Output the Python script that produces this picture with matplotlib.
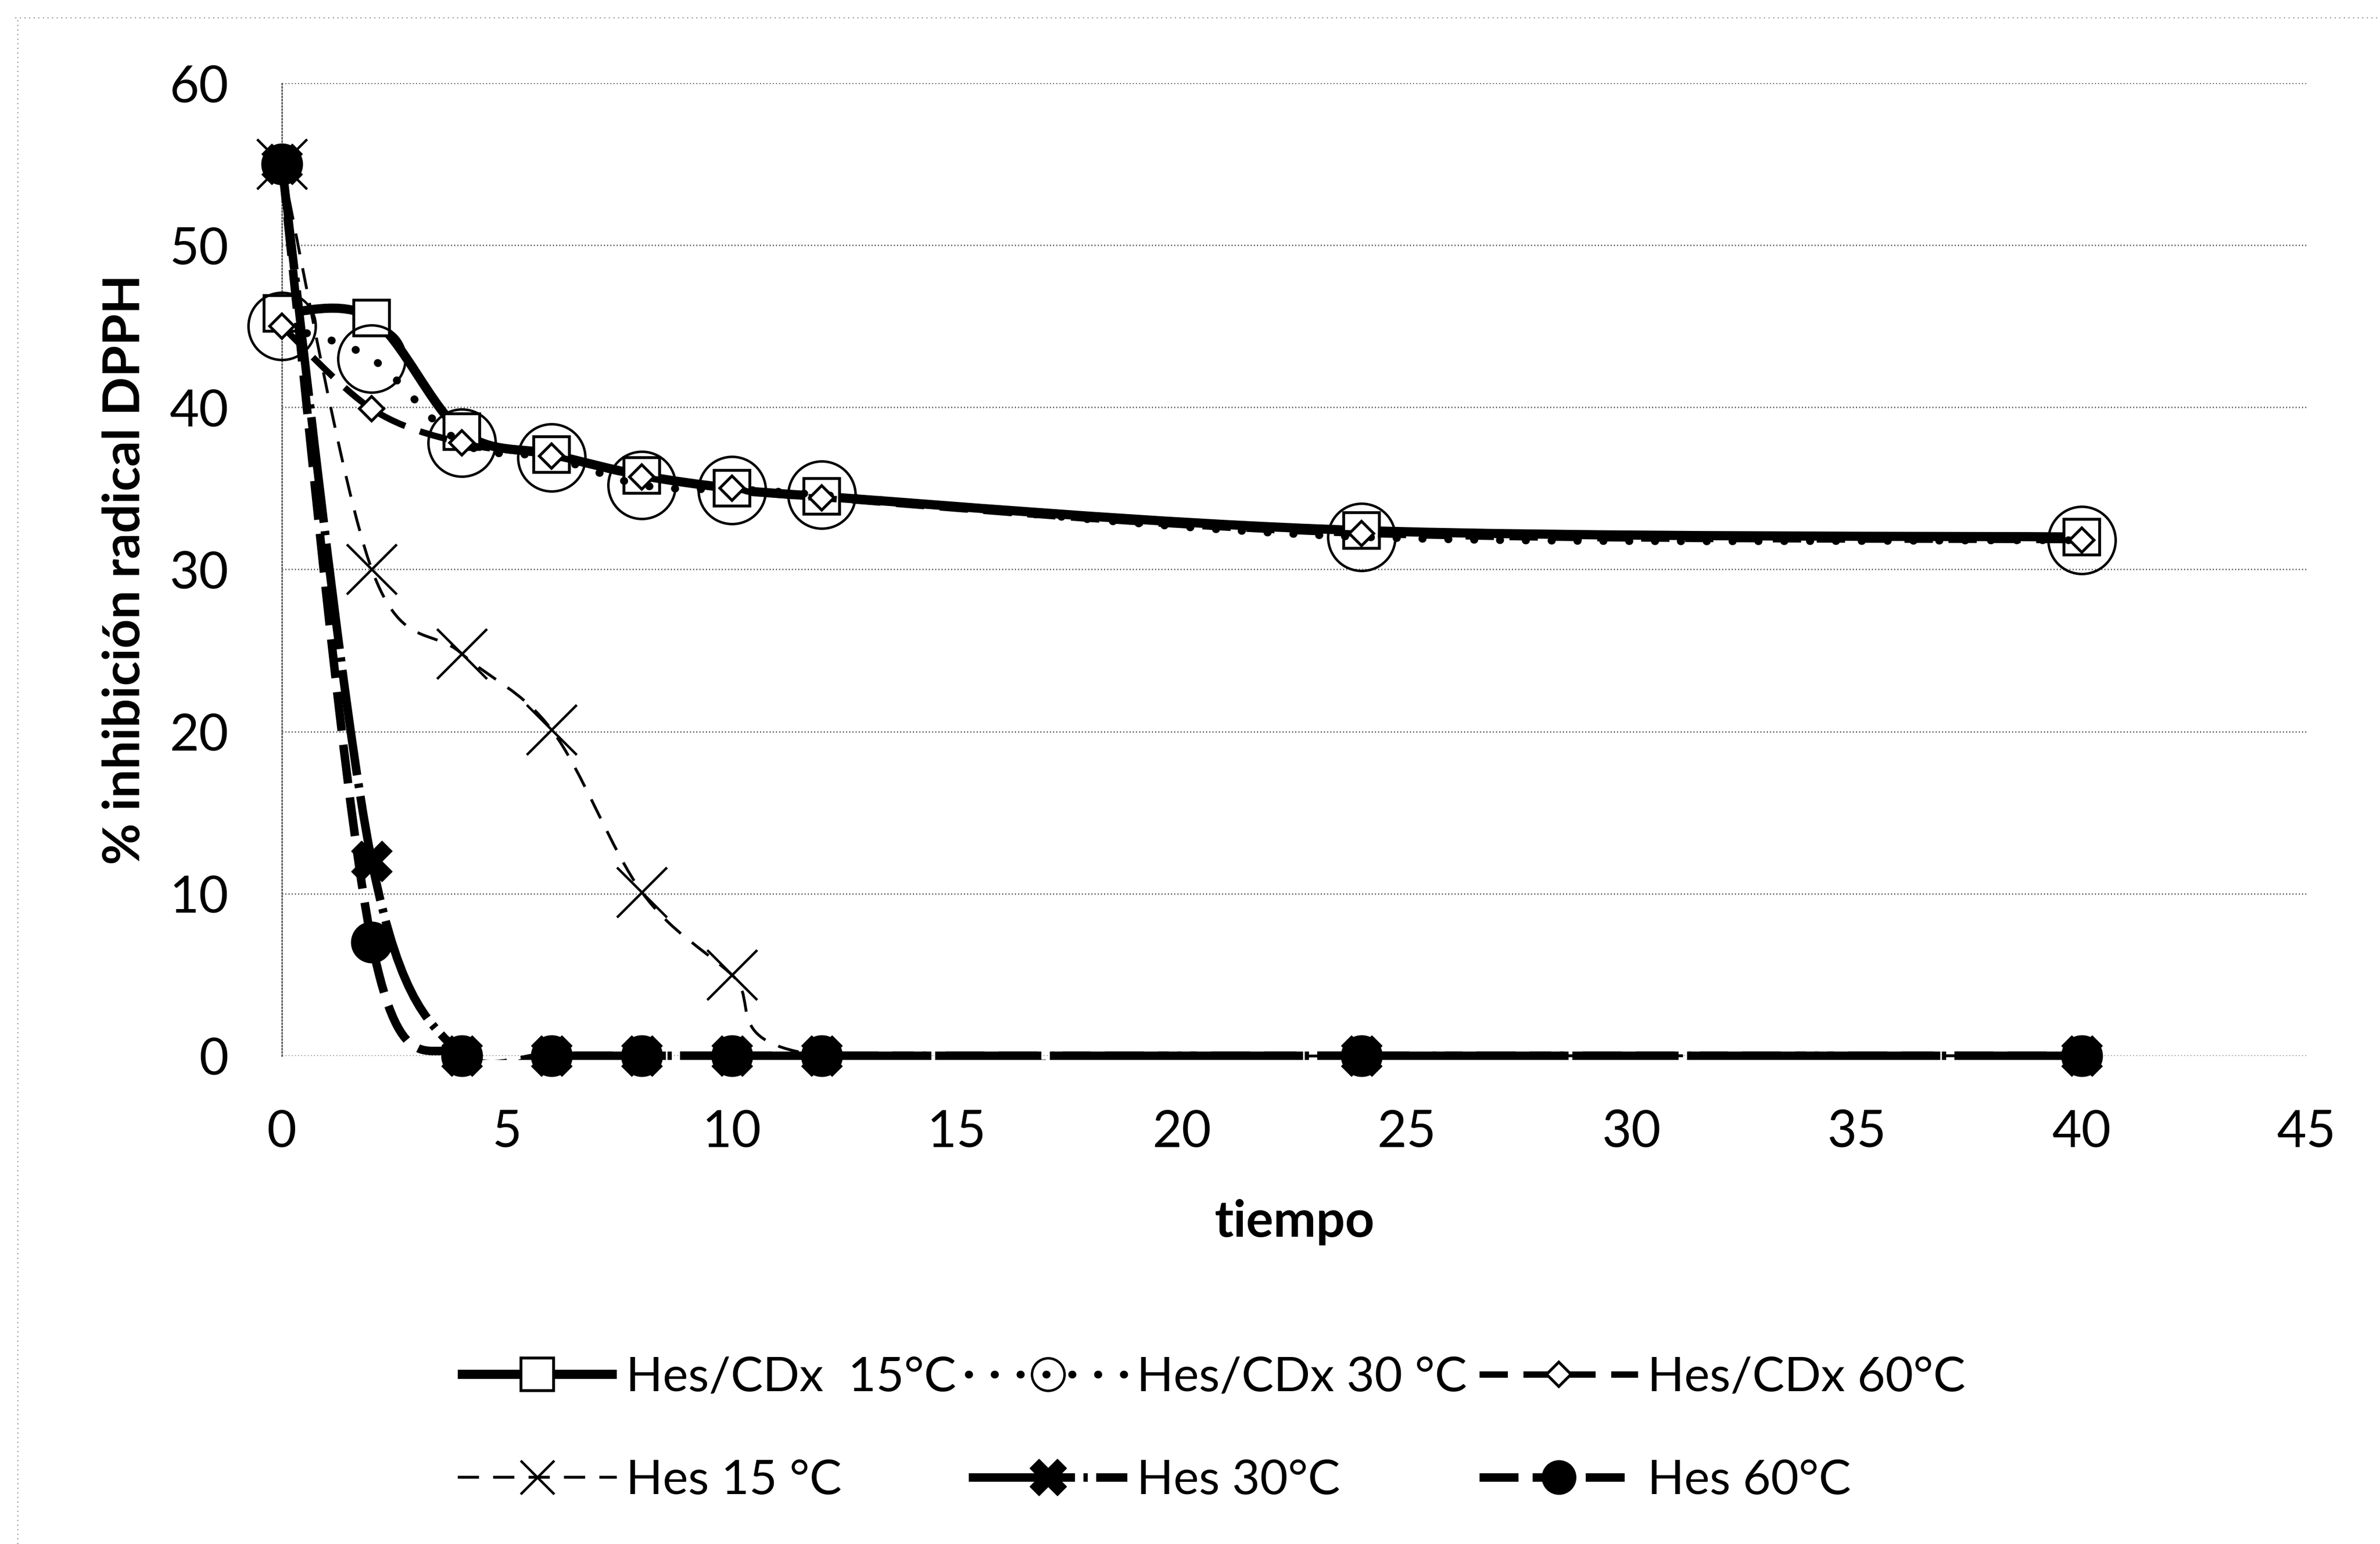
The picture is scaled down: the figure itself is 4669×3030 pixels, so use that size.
import numpy as np
import matplotlib
matplotlib.use('Agg')
import matplotlib.pyplot as plt
from matplotlib.path import Path
from matplotlib.patches import PathPatch, Rectangle
from matplotlib.lines import Line2D

plt.rcParams['lines.scale_dashes'] = False
plt.rcParams['font.family'] = ['Lato', 'DejaVu Sans']

# ---------------- data ----------------
time = [0, 2, 4, 6, 8, 10, 12, 24, 40]
cdx15 = [45.8, 45.5, 38.5, 37.1, 35.8, 35.0, 34.5, 32.4, 32.0]
cdx30 = [45.0, 43.0, 37.8, 36.9, 35.2, 34.9, 34.6, 32.0, 31.8]
cdx60 = [45.0, 39.9, 37.8, 37.0, 35.7, 35.0, 34.4, 32.2, 31.8]
hes15 = [55.0, 30.0, 24.8, 20.1, 10.1, 5.0, 0.0, 0.0, 0.0]
hes30 = [55.0, 12.0, 0.0, 0.0, 0.0, 0.0, 0.0, 0.0, 0.0]
hes60 = [55.0, 7.0, 0.0, 0.0, 0.0, 0.0, 0.0, 0.0, 0.0]

labels = ["Hes/CDx  15°C", "Hes/CDx 30 °C", "Hes/CDx 60°C",
          "Hes 15 °C", "Hes 30°C", "Hes 60°C"]
xticks = [0, 5, 10, 15, 20, 25, 30, 35, 40, 45]
yticks = [0, 10, 20, 30, 40, 50, 60]
xlabel = "tiempo"
ylabel = "% inhibición radical DPPH"


def smooth_path(x, y):
    """Excel-like smoothed line: Catmull-Rom segments as cubic Bezier path."""
    pts = np.column_stack([x, y]).astype(float)
    n = len(pts)
    verts = [pts[0]]
    codes = [Path.MOVETO]
    for i in range(n - 1):
        p0 = pts[i - 1] if i > 0 else pts[i]
        p1 = pts[i]
        p2 = pts[i + 1]
        p3 = pts[i + 2] if i + 2 < n else pts[i + 1]
        c1 = p1 + (p2 - p0) / 6.0
        c2 = p2 - (p3 - p1) / 6.0
        verts += [c1, c2, p2]
        codes += [Path.CURVE4] * 3
    return Path(verts, codes)


fig = plt.figure(figsize=(46.69, 30.30), dpi=100)
ax = fig.add_axes([0.1184, 0.3162, 0.8508, 0.6300])
ax.set_xlim(0, 45)
ax.set_ylim(0, 60)

# plot-area clip (slightly larger than the axes, like Excel's plot area)
clip_rect = Rectangle((-0.05, -0.004), 1.1, 1.1, transform=ax.transAxes,
                      fill=False, visible=False)
ax.add_patch(clip_rect)

series = [
    # values, line kwargs, marker kwargs, legend marker size
    (cdx15, dict(lw=13, ls='-', capstyle='butt'),
     dict(marker='s', ms=50, mfc='white', mec='k', mew=4), 46),
    (cdx30, dict(lw=11, ls=(0, (0.5, 36)), capstyle='round'),
     dict(marker='o', ms=95, mfc='none', mec='k', mew=3.5), 46),
    (cdx60, dict(lw=9, ls=(0, (40, 22)), capstyle='butt'),
     dict(marker='D', ms=24, mfc='white', mec='k', mew=4), 24),
    (hes15, dict(lw=4, ls=(0, (30, 20)), capstyle='butt'),
     dict(marker='x', ms=70, mec='k', mew=3.5, markevery=slice(0, 6)), 48),
    (hes30, dict(lw=12, ls=(0, (150, 12, 6, 12)), capstyle='butt'),
     dict(marker='X', ms=58, mfc='k', mec='k', mew=1), 52),
    (hes60, dict(lw=12, ls=(0, (55, 20)), capstyle='butt'),
     dict(marker='o', ms=58, mfc='k', mec='k', mew=1), 48),
]

handles = []
for i, (vals, lkw, mkw, lms) in enumerate(series):
    path = smooth_path(time, vals)
    patch = PathPatch(path, fill=False, edgecolor='k', linewidth=lkw['lw'],
                      linestyle=lkw['ls'], capstyle=lkw['capstyle'],
                      transform=ax.transData, zorder=3 + i * 0.1)
    ax.add_patch(patch)
    patch.set_clip_path(clip_rect)
    ax.plot(time, vals, ls='none', color='k', clip_on=False,
            zorder=3.05 + i * 0.1, **mkw)
    hm = dict(mkw)
    hm.pop('markevery', None)
    hm['ms'] = lms
    h = Line2D([], [], color='k', lw=lkw['lw'], ls=lkw['ls'],
               dash_capstyle=lkw['capstyle'], solid_capstyle='butt', **hm)
    handles.append(h)

# axes styling
for s in ['top', 'right', 'bottom']:
    ax.spines[s].set_visible(False)
ax.spines['left'].set_linestyle((0, (1.5, 3)))
ax.spines['left'].set_color('#555555')
ax.spines['left'].set_linewidth(2)
ax.set_xticks(xticks)
ax.set_yticks(yticks)
ax.tick_params(length=0, labelsize=72, pad=75)
ax.yaxis.grid(True, linestyle=(0, (1.5, 3)), color='#555555', lw=2)
ax.set_axisbelow(True)

ax.set_xlabel(xlabel, fontsize=72, fontweight='bold')
ax.set_ylabel(ylabel, fontsize=72, fontweight='bold')
ax.xaxis.set_label_coords(0.5, -0.147)
ax.yaxis.set_label_coords(-0.066, 0.5)

# legend: 2 rows x 3 columns (column-major order for matplotlib)
order = [0, 3, 1, 4, 2, 5]
fig.legend([handles[k] for k in order], [labels[k] for k in order],
           loc='upper left', bbox_to_anchor=(0.1923, 0.1215), ncol=3,
           frameon=False, fontsize=68, handlelength=3.3, handletextpad=0.2,
           columnspacing=0.25, labelspacing=1.25, borderpad=0,
           borderaxespad=0, numpoints=1)

# faint scan border lines
fig.add_artist(Line2D([0.0065, 1.0], [0.9884, 0.9884], transform=fig.transFigure,
                      ls=(0, (1.5, 5)), color='#888888', lw=1.5))
fig.add_artist(Line2D([0.0075, 0.0075], [0.0, 0.9884], transform=fig.transFigure,
                      ls=(0, (1.5, 5)), color='#888888', lw=1.5))

fig.savefig('out.png', dpi=100)
